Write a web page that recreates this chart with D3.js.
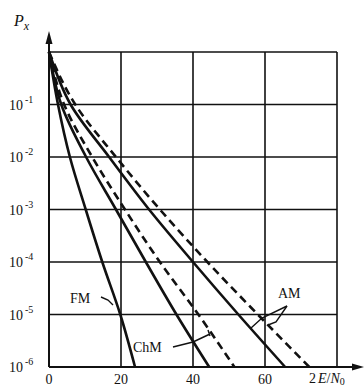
<!DOCTYPE html>
<html>
<head>
<meta charset="utf-8">
<script src="https://cdn.jsdelivr.net/npm/d3@7"></script>
<style>
  html, body { margin: 0; padding: 0; background: #fff; }
  svg { display: block; }
  text { font-family: "Liberation Serif", "DejaVu Serif", serif; fill: #111; }
</style>
</head>
<body>
<div id="chart"></div>
<script>
// error probability levels, one point per decade
const levels = [1, 1e-1, 1e-2, 1e-3, 1e-4, 1e-5, 1e-6];

// 2E/N0 where each curve crosses the levels above
const fmSolid  = [0, 2.5, 5.8, 10.2, 14.8, 19.8, 23.9];
const chmSolid = [0, 3.4, 10.3, 18.6, 26.9, 35.4, 44.5];
const chmDash  = [0, 4.2, 12.0, 21.1, 30.8, 41.5, 51.5];
const amSolid  = [0, 6.0, 16.7, 27.8, 40.0, 52.6, 65.6];
const amDash   = [0, 7.3, 18.6, 30.8, 44.0, 58.0, 72.3];

const xTicks = [0, 20, 40, 60];
const xGrid = [20, 40, 60, 80];
const yTickExp = [-1, -2, -3, -4, -5, -6];
const yGrid = [1, 1e-1, 1e-2, 1e-3, 1e-4, 1e-5];

const width = 364, height = 388;

const svg = d3.select("#chart").append("svg")
    .attr("width", width)
    .attr("height", height);

const x = d3.scaleLinear().domain([0, 80]).range([49, 337]);
const y = d3.scaleLog().domain([1e-6, 1]).range([367, 52]);

// grid
svg.append("g").selectAll("line")
    .data(xGrid)
    .join("line")
    .attr("x1", d => x(d)).attr("x2", d => x(d))
    .attr("y1", y(1)).attr("y2", y(1e-6))
    .attr("stroke", "#111").attr("stroke-width", 1.6);

svg.append("g").selectAll("line")
    .data(yGrid)
    .join("line")
    .attr("x1", x(0)).attr("x2", x(80))
    .attr("y1", d => y(d)).attr("y2", d => y(d))
    .attr("stroke", "#111").attr("stroke-width", 1.6);

// axes with arrows
svg.append("line")
    .attr("x1", x(0)).attr("x2", x(0))
    .attr("y1", y(1e-6)).attr("y2", 40)
    .attr("stroke", "#111").attr("stroke-width", 2);
svg.append("line")
    .attr("x1", x(0)).attr("x2", 356)
    .attr("y1", y(1e-6)).attr("y2", y(1e-6))
    .attr("stroke", "#111").attr("stroke-width", 2);

const ax0 = x(0), ay0 = y(1e-6);
svg.append("path")
    .attr("d", `M${ax0},31 L${ax0 - 3.5},44 L${ax0 + 3.5},44 Z`)
    .attr("fill", "#111");
svg.append("path")
    .attr("d", `M364,${ay0} L352,${ay0 - 3.5} L352,${ay0 + 3.5} Z`)
    .attr("fill", "#111");

// curves
const line = d3.line()
    .x(d => x(d[0]))
    .y(d => y(d[1]))
    .curve(d3.curveMonotoneY);

const series = [
    { xs: fmSolid, dash: null },
    { xs: chmSolid, dash: null },
    { xs: chmDash, dash: "8,5" },
    { xs: amSolid, dash: null },
    { xs: amDash, dash: "8,5" }
];

svg.append("g").selectAll("path")
    .data(series)
    .join("path")
    .attr("d", s => line(s.xs.map((v, i) => [v, levels[i]])))
    .attr("fill", "none")
    .attr("stroke", "#111")
    .attr("stroke-width", 2.6)
    .attr("stroke-dasharray", s => s.dash);

// y tick labels
const yLab = svg.append("g").selectAll("text")
    .data(yTickExp)
    .join("text")
    .attr("x", 9)
    .attr("y", d => y(Math.pow(10, d)) + 5)
    .attr("font-size", 14);
yLab.append("tspan").text("10");
yLab.append("tspan")
    .attr("dx", 2)
    .attr("dy", -7)
    .attr("font-size", 10)
    .text(d => "-" + Math.abs(d));

// x tick labels
svg.append("g").selectAll("text")
    .data(xTicks)
    .join("text")
    .attr("x", d => x(d))
    .attr("y", 384)
    .attr("text-anchor", "middle")
    .attr("font-size", 14)
    .text(d => d);

// axis titles
const xt = svg.append("text").attr("x", 309).attr("y", 383).attr("font-size", 14);
xt.append("tspan").text("2");
xt.append("tspan").attr("font-style", "italic").attr("dx", 2).text("E");
xt.append("tspan").text("/");
xt.append("tspan").attr("font-style", "italic").text("N");
xt.append("tspan").attr("dy", 2).attr("font-size", 10).text("0");

const yt = svg.append("text").attr("x", 14).attr("y", 26).attr("font-size", 16)
    .attr("font-style", "italic");
yt.append("tspan").text("P");
yt.append("tspan").attr("dy", 4).attr("font-size", 12).text("x");

// curve labels with leaders
svg.append("text").attr("x", 70).attr("y", 303).attr("font-size", 14).text("FM");
svg.append("text").attr("x", 133).attr("y", 352).attr("font-size", 14).text("ChM");
svg.append("text").attr("x", 278).attr("y", 298).attr("font-size", 14).text("AM");

const leaders = [
    "M101,297 L108,300 L113,305",
    "M173,347 L193,342",
    "M193,342 L210,334 M208,330 L210,336",
    "M287,306 L262,318 L251,328",
    "M287,306 L276,322 L268,325"
];
svg.append("g").selectAll("path")
    .data(leaders)
    .join("path")
    .attr("d", d => d)
    .attr("fill", "none")
    .attr("stroke", "#111")
    .attr("stroke-width", 1.4);
</script>
</body>
</html>
